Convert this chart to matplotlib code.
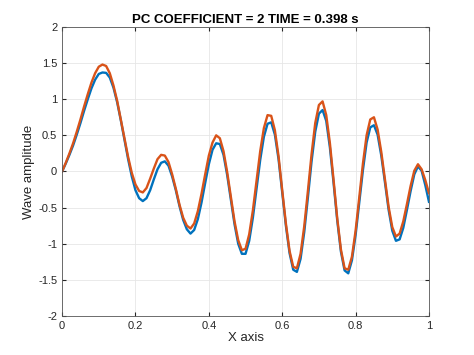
import numpy as np
import matplotlib
matplotlib.use("Agg")
import matplotlib.pyplot as plt

plt.rcParams['font.family'] = ['Liberation Sans', 'DejaVu Sans']

# x-posisjoner (steg 0.01) og avleste verdier
x_vals = [round(i * 0.01, 2) for i in range(101)]

orange = [0.00, 0.12, 0.25, 0.39, 0.55, 0.72, 0.90, 1.07, 1.23, 1.36,
          1.45, 1.48, 1.46, 1.36, 1.19, 0.98, 0.72, 0.46, 0.20, -0.02,
          -0.18, -0.27, -0.29, -0.23, -0.10, 0.04, 0.17, 0.23, 0.22, 0.13,
          -0.04, -0.24, -0.46, -0.64, -0.75, -0.79, -0.72, -0.55, -0.31, -0.04,
          0.22, 0.40, 0.50, 0.46, 0.28, -0.01, -0.35, -0.69, -0.95, -1.09,
          -1.07, -0.87, -0.54, -0.13, 0.28, 0.60, 0.78, 0.77, 0.57, 0.21,
          -0.26, -0.72, -1.10, -1.32, -1.34, -1.14, -0.76, -0.27, 0.24, 0.67,
          0.92, 0.97, 0.78, 0.39, -0.12, -0.65, -1.08, -1.34, -1.36, -1.18,
          -0.82, -0.36, 0.11, 0.50, 0.72, 0.75, 0.58, 0.27, -0.11, -0.49,
          -0.77, -0.90, -0.86, -0.69, -0.45, -0.20, 0.01, 0.10, 0.03, -0.12,
          -0.30]

blue = [0.00, 0.11, 0.23, 0.36, 0.51, 0.67, 0.84, 1.00, 1.15, 1.27,
        1.35, 1.37, 1.365, 1.30, 1.16, 0.96, 0.71, 0.44, 0.17, -0.07,
        -0.26, -0.37, -0.41, -0.37, -0.26, -0.11, 0.03, 0.12, 0.14, 0.08,
        -0.07, -0.26, -0.48, -0.67, -0.80, -0.86, -0.81, -0.66, -0.43, -0.16,
        0.10, 0.30, 0.39, 0.38, 0.23, -0.05, -0.39, -0.73, -1.00, -1.14,
        -1.14, -0.96, -0.64, -0.24, 0.16, 0.48, 0.66, 0.68, 0.51, 0.17,
        -0.29, -0.75, -1.13, -1.36, -1.39, -1.21, -0.84, -0.36, 0.14, 0.55,
        0.80, 0.85, 0.70, 0.33, -0.16, -0.68, -1.11, -1.37, -1.41, -1.23,
        -0.88, -0.43, 0.02, 0.40, 0.61, 0.64, 0.51, 0.22, -0.15, -0.53,
        -0.82, -0.96, -0.94, -0.78, -0.53, -0.27, -0.04, 0.07, 0.01, -0.19,
        -0.42]

xticks = [0, 0.2, 0.4, 0.6, 0.8, 1]
xticklabels = ["0", "0.2", "0.4", "0.6", "0.8", "1"]
yticks = [-2, -1.5, -1, -0.5, 0, 0.5, 1, 1.5, 2]
yticklabels = ["-2", "-1.5", "-1", "-0.5", "0", "0.5", "1", "1.5", "2"]

fig = plt.figure(figsize=(4.74, 3.55), dpi=100)
ax = fig.add_axes([0.131, 0.110, 0.774, 0.814])

ax.plot(x_vals, blue, color="#0072BD", linewidth=1.7)
ax.plot(x_vals, orange, color="#D95319", linewidth=1.7)

ax.set_xlim(0, 1)
ax.set_ylim(-2, 2)
ax.set_xticks(xticks)
ax.set_xticklabels(xticklabels)
ax.set_yticks(yticks)
ax.set_yticklabels(yticklabels)
ax.grid(True, color="#e6e6e6", linewidth=0.6)
ax.tick_params(direction="in", length=3, labelsize=8, colors="#262626",
               top=True, right=True)
for s in ax.spines.values():
    s.set_color("#555555")
    s.set_linewidth(0.6)

ax.set_title("PC COEFFICIENT = 2 TIME = 0.398 s", fontsize=9.5,
             fontweight="bold", pad=3)
ax.set_xlabel("X axis", fontsize=9.5, color="#262626", labelpad=1)
ax.set_ylabel("Wave amplitude", fontsize=9.5, color="#262626", labelpad=2)

fig.savefig("out.png", dpi=100)
